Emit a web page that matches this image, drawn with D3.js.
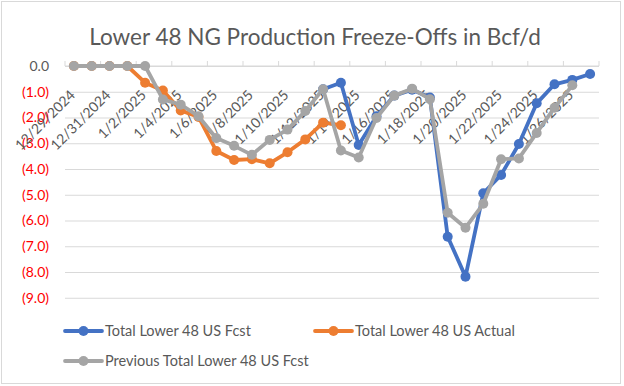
<!DOCTYPE html>
<html>
<head>
<meta charset="utf-8">
<script src="https://cdn.jsdelivr.net/npm/d3@7"></script>
<style>
  body { margin: 0; background: #fff; }
  svg text { font-family: Lato, "Open Sans", sans-serif; }
</style>
</head>
<body>
<div id="chart"></div>
<script>
// categories (one per day)
var dates = ["12/29/2024", "12/30/2024", "12/31/2024", "1/1/2025", "1/2/2025", "1/3/2025",
  "1/4/2025", "1/5/2025", "1/6/2025", "1/7/2025", "1/8/2025", "1/9/2025", "1/10/2025",
  "1/11/2025", "1/12/2025", "1/13/2025", "1/14/2025", "1/15/2025", "1/16/2025", "1/17/2025",
  "1/18/2025", "1/19/2025", "1/20/2025", "1/21/2025", "1/22/2025", "1/23/2025", "1/24/2025",
  "1/25/2025", "1/26/2025", "1/27/2025"];

// Bcf/d, null = no value
var fcst = [null, null, null, null, null, null, null, null, null, null, null, null, null, null,
  -0.9, -0.65, -3.07, -1.95, -1.15, -0.92, -1.22, -6.63, -8.18, -4.94, -4.23, -3.03, -1.45,
  -0.71, -0.54, -0.31];
var actual = [0, 0, 0, 0, -0.65, -0.95, -1.73, -1.98, -3.3, -3.65, -3.62, -3.78, -3.35, -2.85,
  -2.2, -2.3, null, null, null, null, null, null, null, null, null, null, null, null, null, null];
var prevFcst = [0, 0, 0, 0, 0, -1.3, -1.5, -1.95, -2.8, -3.1, -3.45, -2.87, -2.47, -1.75, -0.9,
  -3.28, -3.55, -2.02, -1.15, -0.88, -1.29, -5.7, -6.28, -5.35, -3.62, -3.59, -2.6, -1.62,
  -0.75, null];

var yTicks = [0, -1, -2, -3, -4, -5, -6, -7, -8, -9];
var seriesNames = ["Total Lower 48 US Fcst", "Total Lower 48 US Actual", "Previous Total Lower 48 US Fcst"];
var seriesColors = ["#4472C4", "#ED7D31", "#A5A5A5"];

var width = 624, height = 386;
var plot = {left: 65, right: 599, top: 66, bottom: 297.75};

var svg = d3.select("#chart").append("svg")
  .attr("width", width)
  .attr("height", height);

// chart border
svg.append("rect")
  .attr("x", 1.5).attr("y", 1.5)
  .attr("width", width - 5).attr("height", height - 4)
  .attr("fill", "#fff")
  .attr("stroke", "#d9d9d9");

// title
svg.append("text")
  .attr("x", 315)
  .attr("y", 45)
  .attr("text-anchor", "middle")
  .attr("font-size", 22.5)
  .attr("fill", "#595959")
  .text("Lower 48 NG Production Freeze-Offs in Bcf/d");

var xScale = d3.scaleBand().domain(dates).range([plot.left, plot.right]);
var yScale = d3.scaleLinear().domain([0, -9]).range([plot.top, plot.bottom]);
var xMid = function(d) { return xScale(d) + xScale.bandwidth() / 2; };

// y axis with gridlines
var yAxis = d3.axisLeft(yScale)
  .tickValues(yTicks)
  .tickSize(-(plot.right - plot.left))
  .tickPadding(16)
  .tickFormat(function(t) { return t === 0 ? "0.0" : "(" + Math.abs(t).toFixed(1) + ")"; });

var yAxisG = svg.append("g")
  .attr("transform", "translate(" + plot.left + ",0)")
  .call(yAxis);
yAxisG.select(".domain").remove();
yAxisG.selectAll("line").attr("stroke", "#d9d9d9");
yAxisG.selectAll("text")
  .attr("font-size", 14)
  .attr("font-family", "Lato")
  .attr("fill", function(t) { return t === 0 ? "#595959" : "#ff0000"; });

// category axis sits at zero (top)
svg.append("line")
  .attr("x1", plot.left).attr("x2", plot.right)
  .attr("y1", plot.top).attr("y2", plot.top)
  .attr("stroke", "#d9d9d9");

var tickX = dates.filter(function(d, i) { return i % 2 === 0; }).map(function(d) { return xScale(d); });
tickX.push(plot.right);
svg.selectAll(".xtick")
  .data(tickX)
  .enter().append("line")
  .attr("class", "xtick")
  .attr("x1", function(d) { return d; }).attr("x2", function(d) { return d; })
  .attr("y1", plot.top - 5).attr("y2", plot.top)
  .attr("stroke", "#d9d9d9");

svg.selectAll(".xlabel")
  .data(dates.filter(function(d, i) { return i % 2 === 0; }))
  .enter().append("text")
  .attr("class", "xlabel")
  .attr("text-anchor", "end")
  .attr("font-size", 14)
  .attr("fill", "#595959")
  .attr("transform", function(d) { return "translate(" + (xMid(d) + 2) + "," + 96 + ") rotate(-45)"; })
  .text(function(d) { return d; });

// lines + markers, later series on top
var allSeries = [fcst, actual, prevFcst];
var line = d3.line()
  .defined(function(d) { return d.v !== null; })
  .x(function(d) { return xMid(d.date); })
  .y(function(d) { return yScale(d.v); });

allSeries.forEach(function(values, s) {
  var pts = values.map(function(v, i) { return {date: dates[i], v: v}; });
  var g = svg.append("g");
  g.append("path")
    .datum(pts)
    .attr("d", line)
    .attr("fill", "none")
    .attr("stroke", seriesColors[s])
    .attr("stroke-width", 3.8)
    .attr("stroke-linejoin", "round")
    .attr("stroke-linecap", "round");
  g.selectAll("circle")
    .data(pts.filter(function(d) { return d.v !== null; }))
    .enter().append("circle")
    .attr("cx", function(d) { return xMid(d.date); })
    .attr("cy", function(d) { return yScale(d.v); })
    .attr("r", 5)
    .attr("fill", seriesColors[s]);
});

// legend
var legendPos = [{x: 65, y: 331}, {x: 315, y: 331}, {x: 65, y: 361}];
var legend = svg.selectAll(".legend")
  .data(seriesNames)
  .enter().append("g")
  .attr("class", "legend")
  .attr("transform", function(d, i) { return "translate(" + legendPos[i].x + "," + legendPos[i].y + ")"; });

legend.append("line")
  .attr("x1", 0).attr("x2", 37)
  .attr("stroke", function(d, i) { return seriesColors[i]; })
  .attr("stroke-width", 3.8)
  .attr("stroke-linecap", "round");
legend.append("circle")
  .attr("cx", 18.5)
  .attr("r", 5)
  .attr("fill", function(d, i) { return seriesColors[i]; });
legend.append("text")
  .attr("x", 40)
  .attr("dy", "0.35em")
  .attr("font-size", 14.5)
  .attr("fill", "#595959")
  .text(function(d) { return d; });
</script>
</body>
</html>
